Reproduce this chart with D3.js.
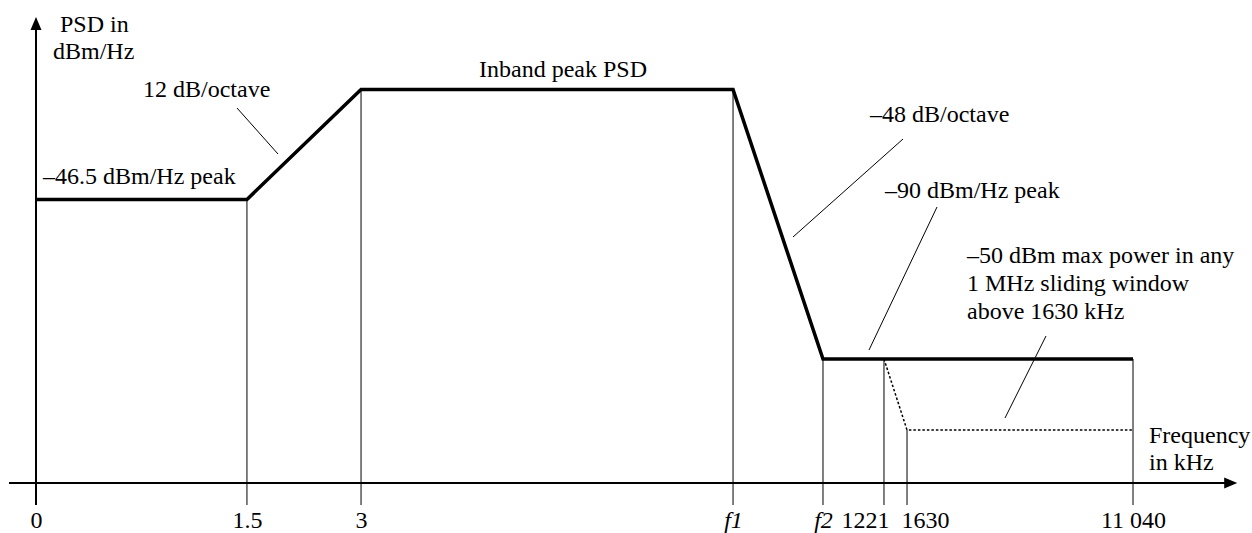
<!DOCTYPE html>
<html>
<head>
<meta charset="utf-8">
<script src="https://cdn.jsdelivr.net/npm/d3@7"></script>
<style>
  html, body { margin: 0; padding: 0; background: #fff; }
  svg { display: block; }
  text { font-family: "Liberation Serif", "Times New Roman", serif; font-size: 24px; fill: #000; }
</style>
</head>
<body>
<svg id="chart" width="1252" height="533"></svg>
<script>
// ---- data (schematic units) ----
const tickLabels = ["0", "1.5", "3", "f1", "f2", "1221", "1630", "11 040"];
const tickPos    = [0, 19.23, 29.63, 63.54, 71.74, 77.30, 79.40, 100];
const tickLevel  = [null, 72.05, 100, 100, 31.51, 31.51, 13.47, 31.51];

const maskX      = [0, 19.23, 29.63, 63.54, 71.74, 100];
const maskLevel  = [72.05, 72.05, 100, 100, 31.51, 31.51];

const windowX     = [77.30, 79.40, 100];
const windowLevel = [31.51, 13.47, 13.47];

// ---- layout ----
const FONT = '"Liberation Serif", "Times New Roman", serif';
const FS = "24px";
const svg = d3.select("#chart");
const x = d3.scaleLinear().domain([0, 100]).range([36, 1133]);
const y = d3.scaleLinear().domain([0, 100]).range([483, 89.5]);
const tickBottom = 505;

// vertical reference lines
svg.append("g").selectAll("line")
  .data(tickPos.map((p, i) => ({p, l: tickLevel[i]})).filter(d => d.l !== null))
  .join("line")
  .attr("x1", d => x(d.p)).attr("x2", d => x(d.p))
  .attr("y1", d => y(d.l)).attr("y2", tickBottom)
  .attr("stroke", "#000").attr("stroke-width", 1);

// axes
const xMin = x(-2.46), xMax = x(109.5);
svg.append("line").attr("x1", xMin).attr("x2", xMax - 10)
  .attr("y1", y(0)).attr("y2", y(0)).attr("stroke", "#000").attr("stroke-width", 2);
svg.append("path")
  .attr("d", `M${xMax},${y(0)} L${xMax - 13},${y(0) - 5.5} L${xMax - 13},${y(0) + 5.5} Z`)
  .attr("fill", "#000");

const yTop = y(118.4);
svg.append("line").attr("x1", x(0)).attr("x2", x(0))
  .attr("y1", tickBottom).attr("y2", yTop + 10).attr("stroke", "#000").attr("stroke-width", 2);
svg.append("path")
  .attr("d", `M${x(0)},${yTop} L${x(0) - 5.5},${yTop + 13} L${x(0) + 5.5},${yTop + 13} Z`)
  .attr("fill", "#000");

// mask
const line = d3.line().x(d => x(d[0])).y(d => y(d[1]));
svg.append("path")
  .datum(maskX.map((v, i) => [v, maskLevel[i]]))
  .attr("d", line)
  .attr("fill", "none").attr("stroke", "#000").attr("stroke-width", 3.5)
  .attr("stroke-linejoin", "miter");

svg.append("path")
  .datum(windowX.map((v, i) => [v, windowLevel[i]]))
  .attr("d", line)
  .attr("fill", "none").attr("stroke", "#000").attr("stroke-width", 1.5)
  .attr("stroke-dasharray", "2.5,2");

// tick labels via axis
const labelShift = {"1221": -19, "1630": 18};
const axis = d3.axisBottom(x).tickValues(tickPos).tickSize(0)
  .tickFormat((d, i) => tickLabels[i]);
const ag = svg.append("g").attr("transform", `translate(0,${y(0)})`).call(axis);
ag.attr("font-family", null).attr("font-size", null);
ag.select(".domain").remove();
ag.selectAll("text")
  .attr("y", 0).attr("dy", 45)
  .attr("dx", d => labelShift[tickLabels[tickPos.indexOf(d)]] || 0)
  .style("font-family", FONT).style("font-size", FS)
  .style("font-style", d => /^f/.test(tickLabels[tickPos.indexOf(d)]) ? "italic" : "normal");

// annotation texts
const notes = [
  ["PSD in", 60, 32], ["dBm/Hz", 53, 59],
  ["12 dB/octave", 143, 97],
  ["\u201346.5 dBm/Hz peak", 43, 184],
  ["Inband peak PSD", 479, 77],
  ["\u201348 dB/octave", 870, 122],
  ["\u201390 dBm/Hz peak", 885, 198],
  ["\u201350 dBm max power in any", 967, 263],
  ["1 MHz sliding window", 967, 291],
  ["above 1630 kHz", 967, 319],
  ["Frequency", 1149, 443],
  ["in kHz", 1149, 470]
];
svg.append("g").selectAll("text").data(notes).join("text")
  .attr("x", d => d[1]).attr("y", d => d[2]).text(d => d[0])
  .style("font-family", FONT).style("font-size", FS);

// leader lines
const leaders = [
  [237, 108, 278, 154],
  [903, 139, 793, 237],
  [937, 207, 869, 350],
  [1046, 336, 1005, 418]
];
svg.append("g").selectAll("line").data(leaders).join("line")
  .attr("x1", d => d[0]).attr("y1", d => d[1]).attr("x2", d => d[2]).attr("y2", d => d[3])
  .attr("stroke", "#000").attr("stroke-width", 1);
</script>
</body>
</html>
